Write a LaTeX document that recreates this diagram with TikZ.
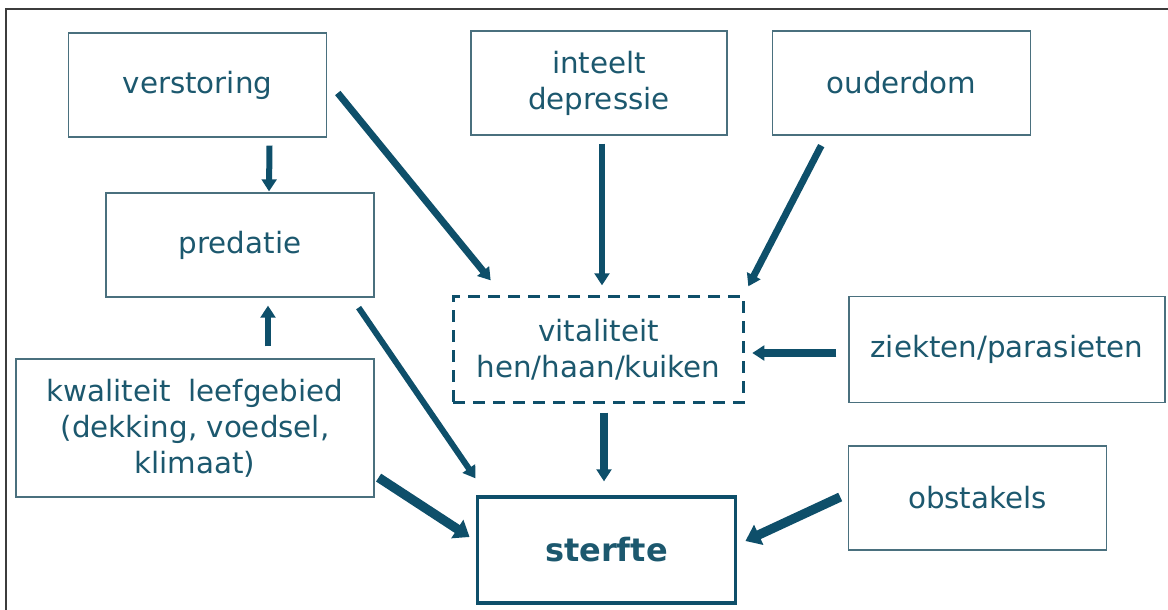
\documentclass[tikz,border=0pt]{standalone}
\usepackage{fontspec}
\setmainfont{DejaVu Sans}
\usepackage{tikz}
\usetikzlibrary{positioning,calc,arrows.meta}
\definecolor{arrowblue}{RGB}{14,79,106}
\definecolor{textblue}{RGB}{28,88,110}
\definecolor{boxline}{RGB}{74,112,126}
\definecolor{framegray}{RGB}{60,60,60}

\begin{document}
\begin{tikzpicture}[x=0.75pt,y=-0.75pt,
		box/.style={draw=boxline,line width=0.9pt,inner sep=0pt,minimum width=193pt,minimum height=78pt,align=center,text=textblue,font=\fontsize{22}{27}\selectfont},
		dashbox/.style={box,draw=arrowblue,line width=2.2pt,dash pattern=on 9pt off 6pt},
		mainbox/.style={box,draw=arrowblue,line width=2.4pt,font=\fontsize{24}{29}\selectfont\bfseries},
		arr/.style={draw=arrowblue,line width=4.5pt,-{Triangle[length=9pt,width=11pt]}},
		arrthick/.style={draw=arrowblue,line width=7pt,-{Triangle[length=11pt,width=16pt]}}]
		\useasboundingbox (0,0) rectangle (1168,610);
		\draw[framegray,line width=1.2pt] (6,610) -- (6,9) -- (1168,9);
		
		\node[box] (verst) at (197.5,85) {verstoring};
		\node[box,minimum width=192pt] (inteelt) at (599,83) {inteelt\\depressie};
		\node[box] (ouder) at (901.5,83) {ouderdom};
		\node[box,minimum width=201pt] (pred) at (240,245) {predatie};
		\node[dashbox,minimum width=218pt,minimum height=79pt] (vital) at (598.5,349.5) {vitaliteit\\hen/haan/kuiken};
		\node[box,minimum width=237pt,minimum height=79pt] (ziek) at (1007,349.5) {ziekten/parasieten};
		\node[box,minimum width=268.5pt,minimum height=103.5pt] (kwal) at (195,428) {kwaliteit\hspace{0.6em}leefgebied\\(dekking, voedsel,\\klimaat)};
		\node[box] (obst) at (977.5,498) {obstakels};
		\node[mainbox,minimum width=194pt,minimum height=79.5pt] (sterf) at (606.5,550) {sterfte};
		
		\draw[arr] ($(verst.south)+(72,8)$) -- ($(pred.north)+(29,-1)$);
		\draw[arr] ($(kwal.north)+(73,-12)$) -- ($(pred.south)+(28,8)$);
		\draw[arr,line width=5.2pt] ($(verst.east)+(11,8)$) -- ($(vital.north west)+(39,-15)$);
		\draw[arr] ($(inteelt.south)+(3,8)$) -- ($(vital.north)+(3.5,-10)$);
		\draw[arr,line width=5.2pt] ($(ouder.south west)+(49,10)$) -- ($(vital.north east)+(3,-9)$);
		\draw[arr,line width=6pt] ($(ziek.west)+(-12,3.5)$) -- ($(vital.east)+(7,3.5)$);
		\draw[arr,line width=6pt] ($(vital.south)+(5.5,9)$) -- ($(sterf.north)+(-2.5,-14)$);
		\draw[arr] ($(pred.south east)+(-16,10)$) -- ($(sterf.north west)+(0,-17)$);
		\draw[arrthick] ($(kwal.south east)+(4,-20)$) -- ($(sterf.west)+(-6,-13)$);
		\draw[arrthick] ($(obst.west)+(-8,-1)$) -- ($(sterf.east)+(8,-9)$);
	\end{tikzpicture}
\end{document}
